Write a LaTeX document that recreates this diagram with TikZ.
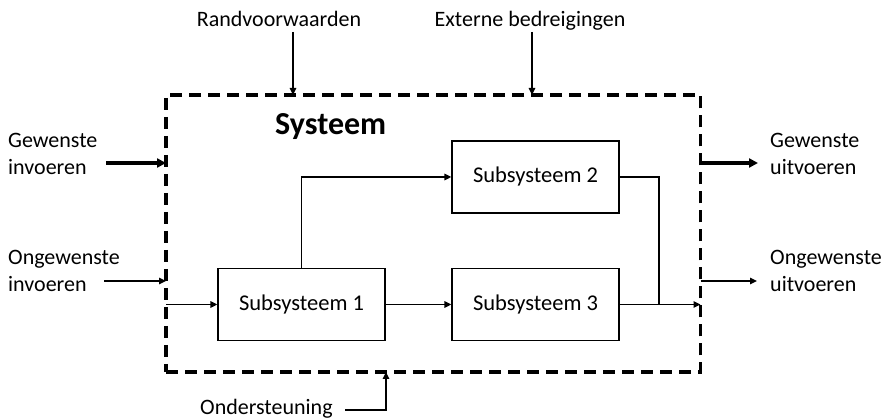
\documentclass[tikz,border=0pt]{standalone}
\usepackage{fontspec}
\setmainfont{Carlito}
\usetikzlibrary{arrows.meta}
\begin{document}
\begin{tikzpicture}[x=1pt,y=-1pt,
  txt/.style={font=\fontsize{22}{27}\selectfont, inner sep=0pt},
  subbox/.style={draw, line width=1.3pt, minimum width=167pt, minimum height=72pt, inner sep=0pt, font=\fontsize{22.5}{27}\selectfont},
  conn/.style={line width=1.5pt},
  thinarrow/.style={line width=1.5pt, -{Triangle[length=7pt,width=6.5pt]}},
  thickarrow/.style={line width=3.2pt, -{Triangle[length=9pt,width=9pt]}},
  sysbox/.style={draw, line width=3.3pt, dash pattern=on 12pt off 7pt, minimum width=534.5pt, minimum height=277pt, inner sep=0pt, outer sep=0pt}]
\useasboundingbox (0,0) rectangle (881,419);
% system boundary
\node[sysbox] (sys) at (433.25,233.5) {};
\node[anchor=base west, inner sep=0pt, font=\fontsize{32}{38}\selectfont\bfseries] (title) at (275,135) {Systeem};
% subsystems
\node[subbox] (s1) at (301.5,304.5) {Subsysteem 1};
\node[subbox] (s2) at (535.5,177) {Subsysteem 2};
\node[subbox] (s3) at (535.5,304.5) {Subsysteem 3};
% labels
\node[txt, anchor=base west] (gin) at (8,148) {\begin{tabular}[t]{@{}l@{}}Gewenste\\invoeren\end{tabular}};
\node[txt, anchor=base west] (oin) at (8,265) {\begin{tabular}[t]{@{}l@{}}Ongewenste\\invoeren\end{tabular}};
\node[txt, anchor=base west] (guit) at (770,148) {\begin{tabular}[t]{@{}l@{}}Gewenste\\uitvoeren\end{tabular}};
\node[txt, anchor=base west] (ouit) at (770,265) {\begin{tabular}[t]{@{}l@{}}Ongewenste\\uitvoeren\end{tabular}};
\node[txt, anchor=base] (rv) at (279,27) {Randvoorwaarden};
\node[txt, anchor=base] (eb) at (530,27) {Externe bedreigingen};
\node[txt, anchor=base west] (os) at (200,415) {Ondersteuning};
% free ends
\coordinate (gi) at (106,163);
\coordinate (oi) at (104,281);
\coordinate (go) at (758,163);
\coordinate (oo) at (757,281);
\coordinate (rva) at (293,32);
\coordinate (eba) at (532,32);
\coordinate (osa) at (345,410);
\coordinate (osb) at (386,410);
\coordinate (j) at (659,304.5);
% inputs / outputs
\draw[thickarrow] (gi) -- (gi -| sys.west);
\draw[thinarrow] (oi) -- (oi -| sys.west);
\draw[thickarrow] (go -| sys.east) -- (go);
\draw[thinarrow] (oo -| sys.east) -- (oo);
\draw[thinarrow] (rva) -- (rva |- sys.north);
\draw[thinarrow] (eba) -- (eba |- sys.north);
\draw[thinarrow] (osa) -- (osb) -- (osb |- sys.south);
% internal flow
\draw[thinarrow] (s1 -| sys.west) -- (s1);
\draw[thinarrow] (s1) -- (s3);
\draw[thinarrow] (s1.north) |- (s2);
\draw[conn] (s2.east) -| (j);
\draw[thinarrow] (s3.east) -- (s3.east -| sys.east);
\end{tikzpicture}
\end{document}
